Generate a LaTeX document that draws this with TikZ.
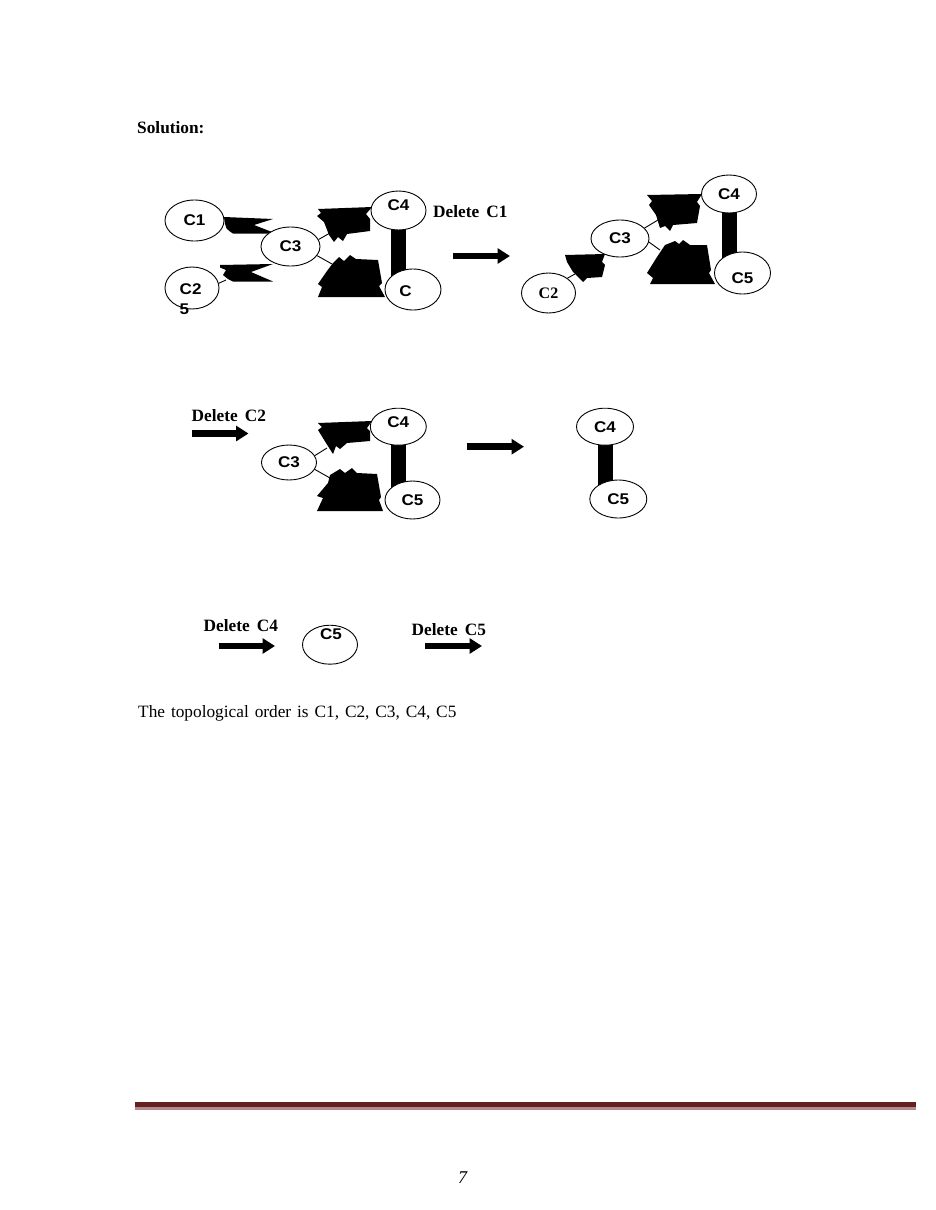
\documentclass[tikz,border=0pt]{standalone}
\usepackage{fontspec}
\setmainfont{Liberation Serif}
\newfontfamily\lsans[FakeStretch=1.1]{Liberation Sans}
\usetikzlibrary{shapes.geometric,arrows.meta}
\definecolor{footdark}{HTML}{652022}
\definecolor{footlight}{HTML}{B58A8E}
\begin{document}
\begin{tikzpicture}[x=1pt,y=-1pt,
  ell/.style={draw=black,fill=white,line width=0.9pt,ellipse,inner sep=0pt,
    minimum width=55pt,minimum height=39pt,
    font=\lsans\bfseries\fontsize{15.5}{17}\selectfont},
  txtup/.style={text depth=10pt},
  txtdn/.style={text height=21pt},
  lbl/.style={inner sep=0pt,font=\lsans\bfseries\fontsize{15.5}{17}\selectfont},
  blob/.style={fill=black},
  thinln/.style={draw=black,line width=0.9pt},
  barln/.style={draw=black,line width=15pt},
  fatarr/.style={draw=black,line width=6.7pt,-{Triangle[length=12.5pt,width=15pt]}},
  serifb/.style={inner sep=0pt,anchor=base west,font=\bfseries\fontsize{17.3}{20}\selectfont},
  serifr/.style={inner sep=0pt,anchor=base west,font=\fontsize{17.3}{20}\selectfont},
]
\fill[white] (0,0) rectangle (935,1210);

% ---------- texts ----------
\node[serifb] (sol) at (137,133) {Solution:};
\node[serifb] (d1) at (433,217) {Delete\hspace{7pt}C1};
\node[serifb] (d2) at (191.5,421.5) {Delete\hspace{7pt}C2};
\node[serifb] (d4) at (203.5,631.5) {Delete\hspace{7pt}C4};
\node[serifb] (d5) at (411.5,635) {Delete\hspace{7pt}C5};
\node[serifr] (topo) at (138,717) {\spaceskip=5.9pt The topological order is C1, C2, C3, C4, C5};
\node[inner sep=0pt,anchor=base,font=\itshape\fontsize{18}{20}\selectfont] (pg) at (462.5,1183) {7};

% ---------- footer rule ----------
\fill[footdark] (135,1102.3) rectangle (916,1107);
\fill[footlight] (135,1107) rectangle (916,1110);

% ---------- block arrows ----------
\coordinate (a1s) at (453,256);   \coordinate (a1e) at (510,256);
\coordinate (a2s) at (192,433.5); \coordinate (a2e) at (248.5,433.5);
\coordinate (a3s) at (467,446.7); \coordinate (a3e) at (524,446.7);
\coordinate (a4s) at (219,646);   \coordinate (a4e) at (275,646);
\coordinate (a5s) at (425,646);   \coordinate (a5e) at (482,646);
\draw[fatarr] (a1s) -- (a1e);
\draw[fatarr] (a2s) -- (a2e);
\draw[fatarr] (a3s) -- (a3e);
\draw[fatarr] (a4s) -- (a4e);
\draw[fatarr] (a5s) -- (a5e);

% ================= top-left graph =================
\coordinate (tlC1) at (194.5,220.5);
\coordinate (tlC2) at (192,288);
\coordinate (tlC3) at (290.5,246.5);
\coordinate (tlC4) at (398.5,210.5);
\coordinate (tlC5) at (413,289.5);
\draw[barln] (tlC4) -- (tlC4 |- tlC5);
% black blobs
\fill[blob] (224,217) -- (273,219) -- (254,225) -- (272,232) -- (273,233.5) -- (233,233.5)
  -- (230,231.5) -- (226.5,228.5) -- (225,224) -- cycle;
\fill[blob] (220,265) -- (273,264) -- (251,272) -- (273,281.5) -- (233,281.5) -- (228,279)
  -- (223,275) -- (226,270) -- (220,267.5) -- cycle;
\fill[blob] (318,209) -- (372,207) -- (366,214) -- (370,219) -- (370,231) -- (347,234)
  -- (343,241) -- (338,237) -- (334,242) -- (329,235) -- (324,222) -- (317,216) -- (321,213) -- cycle;
\fill[blob] (333,263) -- (339,257) -- (344,261) -- (350,255) -- (356,259) -- (378,260)
  -- (382,283) -- (379,286) -- (385,297) -- (318,297) -- (322,287) -- (318,284) -- (327,271) -- cycle;
\node[ell,minimum width=59pt,minimum height=41pt] (C1a) at (tlC1) {C1};
\node[ell,minimum width=54pt,minimum height=42pt] (C2a) at (tlC2) {};
\node[ell,minimum width=59pt,minimum height=39pt] (C3a) at (tlC3) {C3};
\node[ell,txtup,minimum width=55pt,minimum height=39pt] (C4a) at (tlC4) {C4};
\node[ell,minimum width=56pt,minimum height=41pt] (C5a) at (tlC5) {};
\node[lbl,anchor=north west,align=left] (C2aT) at (179.5,283) {C2\\[3pt]5};
\node[lbl] (C5aT) at (405.5,291) {C};
\coordinate (tlL1) at (226,280);
\coordinate (tlL2) at (330,233);
\coordinate (tlL3) at (332,264);
\draw[thinln] (C2a.10) -- (tlL1);
\draw[thinln] (C3a.14) -- (tlL2);
\draw[thinln] (C3a.-19) -- (tlL3);

% ================= top-right graph =================
\coordinate (trC2) at (548.5,293);
\coordinate (trC3) at (620,238.5);
\coordinate (trC4) at (729,194);
\coordinate (trC5) at (742.5,273);
\draw[barln] (trC4) -- (trC4 |- trC5);
\fill[blob] (565,255) -- (605,254) -- (602,262) -- (605,265) -- (602,277) -- (587,278)
  -- (583,282) -- (578,277) -- (573,272) -- (567,262) -- cycle;
\fill[blob] (647,195) -- (702,194) -- (697,202) -- (700,206) -- (697,223) -- (673,225)
  -- (670,231) -- (665,226) -- (660,228) -- (656,215) -- (649,205) -- (652,201) -- cycle;
\fill[blob] (665,245) -- (675,241) -- (679,244) -- (683,240) -- (690,245) -- (707,245)
  -- (711,270) -- (709,273) -- (715,284) -- (650,284) -- (653,278) -- (647,273) -- (657,257) -- cycle;
\node[ell,minimum width=54pt,minimum height=40pt,font=\bfseries\fontsize{16}{18}\selectfont] (C2b) at (trC2) {C2};
\node[ell,minimum width=58pt,minimum height=37pt] (C3b) at (trC3) {C3};
\node[ell,minimum width=55pt,minimum height=38pt] (C4b) at (trC4) {C4};
\node[ell,txtdn,minimum width=56pt,minimum height=42pt] (C5b) at (trC5) {C5};
\coordinate (trL1) at (575,274);
\coordinate (trL2) at (658,220);
\coordinate (trL3) at (660,250);
\draw[thinln] (C2b.38) -- (trL1);
\draw[thinln] (C3b.23) -- (trL2);
\draw[thinln] (C3b.-7) -- (trL3);

% ================= middle row, left graph =================
\coordinate (mC3) at (289,462.5);
\coordinate (mC4) at (398.3,426.7);
\coordinate (mC5) at (412.5,500);
\draw[barln] (mC4) -- (mC4 |- mC5);
\fill[blob] (318,423) -- (372,421) -- (367,428) -- (370,431) -- (370,441) -- (347,443)
  -- (340,449) -- (336,446) -- (333,454) -- (326,443) -- (318,430) -- (322,427) -- cycle;
\fill[blob] (330,475) -- (340,469) -- (345,473) -- (352,468) -- (357,473) -- (377,474)
  -- (381,497) -- (379,500) -- (383,511) -- (317,511) -- (323,498) -- (317,496) -- (328,483) -- cycle;
\node[ell,minimum width=55pt,minimum height=35pt] (C3c) at (mC3) {C3};
\node[ell,txtup,minimum width=56pt,minimum height=37pt] (C4c) at (mC4) {C4};
\node[ell,minimum width=55pt,minimum height=38pt] (C5c) at (mC5) {C5};
\coordinate (mL1) at (327,448);
\coordinate (mL2) at (330,478);
\draw[thinln] (C3c.15) -- (mL1);
\draw[thinln] (C3c.-15) -- (mL2);

% ================= middle row, right graph =================
\coordinate (rC4) at (605,426.7);
\coordinate (rC5) at (618.3,499);
\draw[barln] (rC4) -- (rC4 |- rC5);
\node[ell,minimum width=57pt,minimum height=37pt] (C4d) at (rC4) {C4};
\node[ell,minimum width=57pt,minimum height=38pt] (C5d) at (rC5) {C5};

% ================= bottom row =================
\node[ell,minimum width=55pt,minimum height=39pt] (C5e) at (330,644.7) {};
\node[lbl] (C5eT) at (331,634) {C5};
\end{tikzpicture}
\end{document}
